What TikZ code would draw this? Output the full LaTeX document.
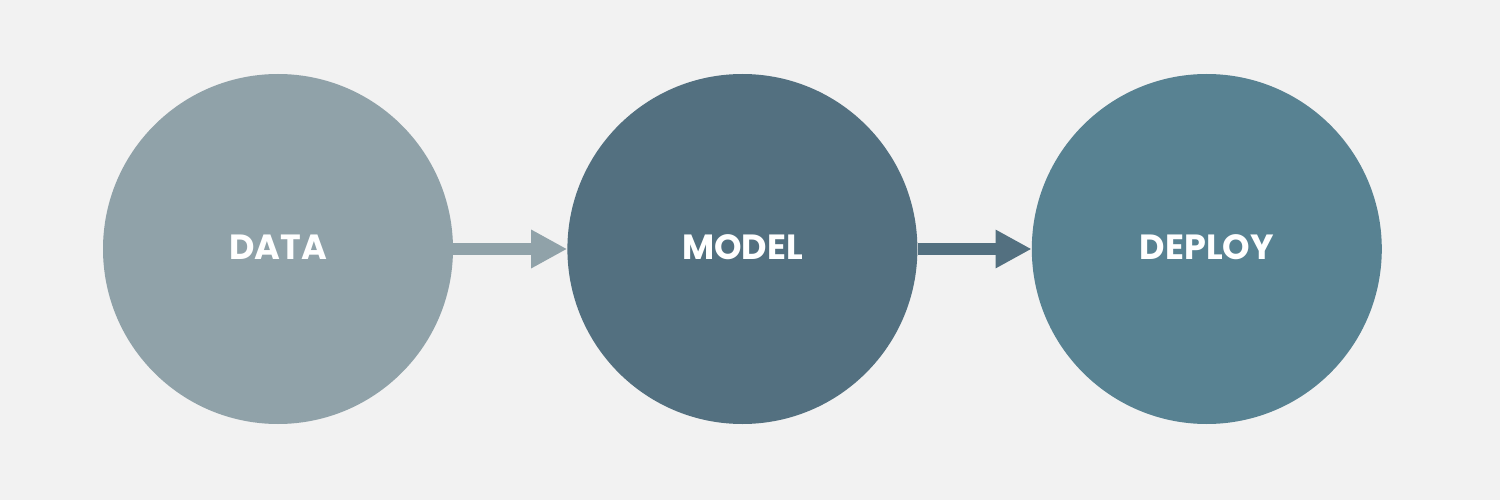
\documentclass[tikz,border=0pt]{standalone}
\usepackage{fontspec}
\setmainfont{Poppins}
\definecolor{bgrey}{HTML}{F2F2F2}
\definecolor{stepone}{HTML}{90A2A9}
\definecolor{steptwo}{HTML}{537080}
\definecolor{stepthree}{HTML}{588292}
\usetikzlibrary{arrows.meta,positioning}
\newcommand{\steplabel}[1]{\raisebox{3.5pt}{#1}}

\begin{document}
\begin{tikzpicture}[x=1pt,y=1pt,node distance=114pt,
	font=\bfseries\fontsize{35}{35}\selectfont]
	\tikzstyle{every node}=[circle,inner sep=0pt,minimum size=350pt,text=white]
	\tikzstyle{flow}=[line width=12pt,-{Triangle[length=36pt,width=36pt]}]

	\fill[bgrey] (0,0) rectangle (1500,-500);

	\node[fill=stepone] (0) at (278,-249) {\steplabel{DATA}};
	\node[fill=steptwo] (1) [right=of 0] {\steplabel{MODEL}};
	\node[fill=stepthree] (2) [right=of 1] {\steplabel{DEPLOY}};

	\path
	(0) edge[flow,draw=stepone,fill=stepone] (1)
	(1) edge[flow,draw=steptwo,fill=steptwo] (2)
	;
\end{tikzpicture}
\end{document}
